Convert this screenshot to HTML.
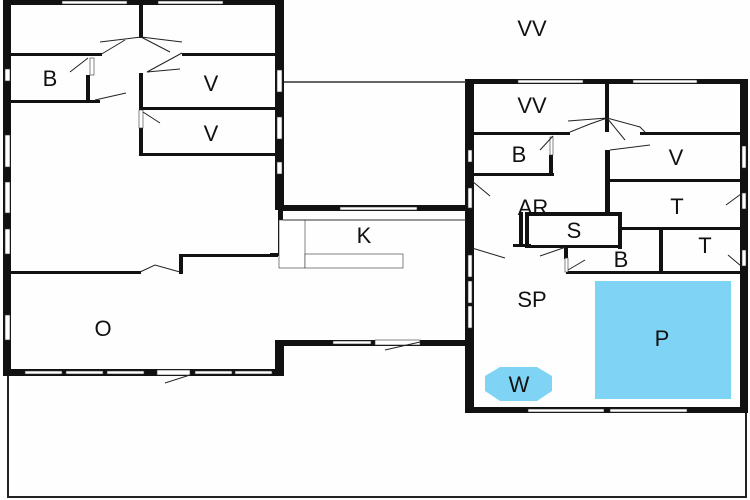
<!DOCTYPE html>
<html><head><style>body{margin:0;background:#fff}svg{display:block}text{font-family:"Liberation Sans",sans-serif;font-size:22px;fill:#111;text-anchor:middle}</style></head>
<body>
<svg width="750" height="500" viewBox="0 0 750 500" xmlns="http://www.w3.org/2000/svg">
<rect width="750" height="500" fill="#fefefe"/>
<g fill="#111">
<rect x="3" y="0" width="8" height="376"/>
<rect x="3" y="0" width="281" height="5"/>
<rect x="275" y="0" width="9" height="210"/>
<rect x="3" y="369" width="281" height="7"/>
<rect x="275" y="340" width="9" height="36"/>
<rect x="275" y="340" width="195" height="6"/>
<rect x="278" y="205" width="5" height="50"/>
<rect x="270" y="253" width="13" height="3"/>
<rect x="283" y="205" width="187" height="6"/>
<rect x="139" y="0" width="4" height="38"/>
<rect x="10" y="53" width="92" height="3"/>
<rect x="182" y="53" width="94" height="3"/>
<rect x="10" y="100" width="90" height="3"/>
<rect x="86" y="75" width="4" height="27"/>
<rect x="139" y="73" width="4" height="36"/>
<rect x="139" y="128" width="4" height="28"/>
<rect x="139" y="107" width="137" height="3"/>
<rect x="139" y="153" width="137" height="3"/>
<rect x="10" y="271" width="131" height="3"/>
<rect x="179" y="255" width="4" height="19"/>
<rect x="179" y="254" width="99" height="3"/>
<rect x="465" y="79" width="9" height="334"/>
<rect x="465" y="79" width="283" height="5"/>
<rect x="740" y="79" width="8" height="334"/>
<rect x="465" y="407" width="283" height="6"/>
<rect x="605" y="84" width="4" height="48"/>
<rect x="474" y="132" width="96" height="3"/>
<rect x="640" y="132" width="101" height="3"/>
<rect x="474" y="173" width="80" height="3"/>
<rect x="549" y="155" width="4" height="21"/>
<rect x="605" y="150" width="5" height="66"/>
<rect x="607" y="179" width="134" height="3"/>
<rect x="525" y="212" width="97" height="4"/>
<rect x="525" y="212" width="4" height="36"/>
<rect x="618" y="212" width="4" height="37"/>
<rect x="527" y="245" width="95" height="3"/>
<rect x="620" y="227" width="121" height="3"/>
<rect x="659" y="227" width="4" height="47"/>
<rect x="566" y="271" width="175" height="3"/>
<rect x="564" y="247" width="4" height="12"/>
<rect x="519" y="212" width="4" height="34"/>
<rect x="513" y="244" width="18" height="3"/>
</g>
<g fill="#fff" stroke="#333" stroke-width="0.6">
<rect x="62" y="1" width="65" height="3"/><rect x="158" y="1" width="65" height="3"/>
<rect x="5" y="69" width="5" height="12"/><rect x="5" y="135" width="5" height="32"/><rect x="5" y="182" width="5" height="31"/><rect x="5" y="229" width="5" height="25"/><rect x="5" y="315" width="5" height="25"/>
<rect x="277" y="70" width="5" height="22"/><rect x="277" y="117" width="5" height="22"/><rect x="277" y="162" width="5" height="12"/>
<rect x="25" y="371" width="37" height="3"/><rect x="66" y="371" width="37" height="3"/><rect x="107" y="371" width="37" height="3"/><rect x="157" y="370" width="33" height="5"/><rect x="195" y="371" width="37" height="3"/><rect x="235" y="371" width="37" height="3"/>
<rect x="333" y="341" width="38" height="3"/><rect x="375" y="340" width="45" height="5"/>
<rect x="340" y="207" width="77" height="3"/>
<rect x="518" y="80" width="65" height="3"/><rect x="633" y="80" width="64" height="3"/>
<rect x="468" y="150" width="4" height="12"/><rect x="742" y="146" width="4" height="22"/>
<rect x="468" y="188" width="4" height="20"/><rect x="742" y="193" width="4" height="16"/><rect x="742" y="250" width="4" height="16"/>
<rect x="468" y="255" width="4" height="22"/><rect x="468" y="281" width="4" height="22"/><rect x="468" y="306" width="4" height="22"/>
<rect x="528" y="409" width="76" height="3"/><rect x="610" y="409" width="77" height="3"/>
<rect x="279" y="220" width="26" height="48"/><rect x="305" y="254" width="98" height="14"/>
<rect x="90" y="58" width="4" height="17"/><rect x="139" y="110" width="4" height="18"/><rect x="550" y="137" width="3" height="18"/><rect x="565" y="258" width="3" height="14"/>
</g>
<line x1="284" y1="82" x2="466" y2="82" stroke="#333" stroke-width="1.5"/>
<line x1="283" y1="220" x2="466" y2="220" stroke="#333" stroke-width="1"/>
<path d="M8 376 V497 H746 V413" fill="none" stroke="#222" stroke-width="2"/>
<g stroke="#222" stroke-width="1" fill="none">
<path d="M100 55 L125 40 M141 37 L100 42 M141 37 L182 42 M141 37 L170 52 M182 53 L147 72 L180 69 M88 58 L70 72 M95 100 L126 93 M143 112 L160 123 M140 272 L155 265 L180 272 M165 383 L190 375 M385 350 L420 342 M570 132 L590 124 L607 118 L568 121 M607 118 L640 127 L645 132 M607 118 L625 140 M610 150 L650 145 M553 136 L540 150 M472 181 L490 196 M472 248 L505 258 M540 256 L566 247 M568 270 L585 260 M741 194 L726 205 M741 266 L728 255"/>
</g>
<rect x="595" y="281" width="136" height="118" fill="#7fd3f5"/>
<polygon points="500,367 537,367 552,376 552,391 537,401 500,401 485,391 485,376" fill="#7fd3f5"/>
<text x="532" y="36">VV</text>
<text x="50" y="86">B</text>
<text x="211" y="91">V</text>
<text x="211" y="141">V</text>
<text x="532" y="113">VV</text>
<text x="519" y="162">B</text>
<text x="676" y="165">V</text>
<text x="533" y="215">AR</text>
<text x="677" y="214">T</text>
<text x="574" y="238">S</text>
<text x="705" y="253">T</text>
<text x="621" y="267">B</text>
<text x="364" y="243">K</text>
<text x="532" y="307">SP</text>
<text x="103" y="336">O</text>
<text x="662" y="346">P</text>
<text x="519" y="392">W</text>
</svg>
</body></html>
